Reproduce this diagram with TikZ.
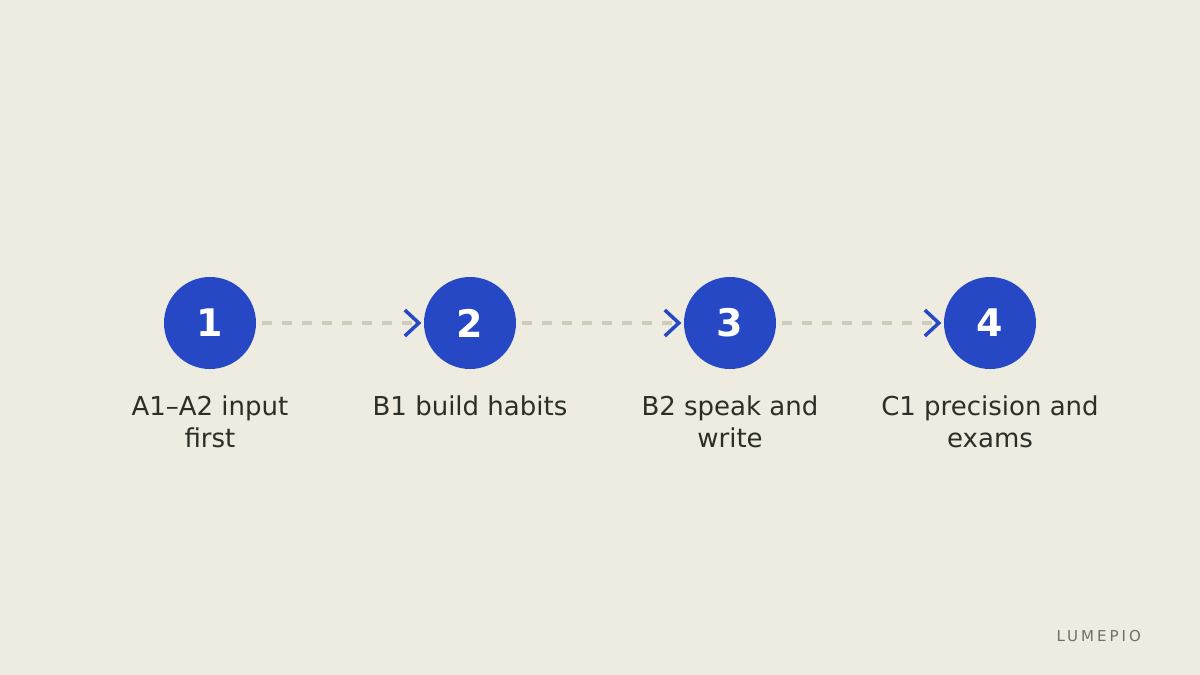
\documentclass[tikz,border=0pt]{standalone}
\usepackage{fontspec}
\setmainfont{DejaVu Sans}
\definecolor{bgc}{HTML}{EEEBE0}
\definecolor{bluec}{HTML}{2648C4}
\definecolor{dashc}{HTML}{CFCBBB}
\definecolor{textc}{HTML}{2B2F27}
\definecolor{brandc}{HTML}{6E7165}
\tikzset{
  stepcirc/.style={circle, fill=bluec, minimum size=92pt, inner sep=0pt, text=white, font=\fontsize{38}{38}\selectfont\bfseries},
  steplabel/.style={text=textc, font=\fontsize{26}{32}\selectfont, align=center, anchor=north, inner sep=0pt},
  dashline/.style={draw=dashc, line width=4pt, dash pattern=on 10pt off 10pt, shorten <=6pt, shorten >=6pt},
  chev/.style={draw=bluec, line width=3.5pt, line cap=butt, line join=miter}
}
\begin{document}
\begin{tikzpicture}[x=1pt,y=-1pt]
\fill[bgc] (0,0) rectangle (1200,675);
\useasboundingbox (0,0) rectangle (1200,675);
\node[stepcirc] (c1) at (210,323) {1};
\node[stepcirc] (c2) at (470,323) {2};
\node[stepcirc] (c3) at (730,323) {3};
\node[stepcirc] (c4) at (990,323) {4};
\node[steplabel] (l1) at (210,396) {A1–A2 input\\first};
\node[steplabel] (l2) at (470,396) {B1 build habits};
\node[steplabel] (l3) at (730,396) {B2 speak and\\write};
\node[steplabel] (l4) at (990,396) {C1 precision and\\exams};
\foreach \a/\b in {c1/c2,c2/c3,c3/c4}{
  \draw[dashline] (\a.east) -- (\b.west);
  \draw[chev] ([xshift=-19pt,yshift=13pt]\b.west) -- ([xshift=-5pt]\b.west) -- ([xshift=-19pt,yshift=-13pt]\b.west);
}
\node[anchor=east, text=brandc, font=\fontsize{15}{15}\selectfont, inner sep=0pt] (brand) at (1141,636) {\addfontfeature{LetterSpace=20}LUMEPIO};
\end{tikzpicture}
\end{document}
